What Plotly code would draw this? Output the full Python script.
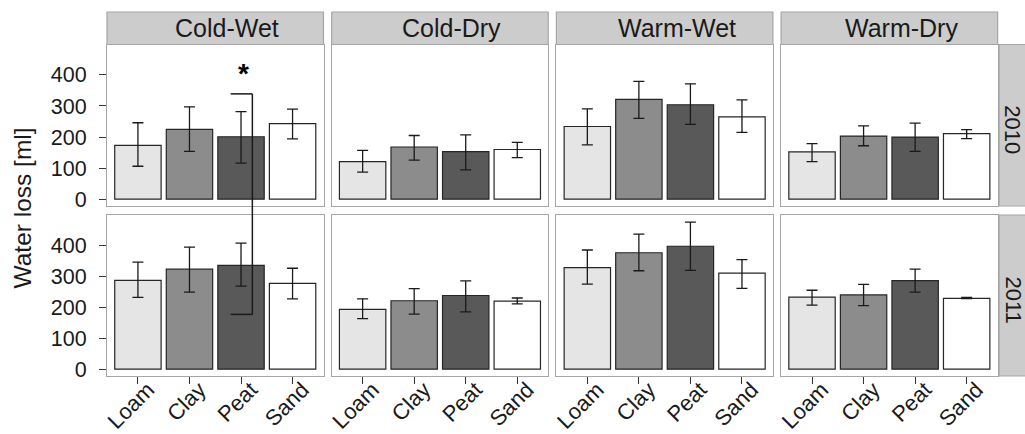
import plotly.graph_objects as go

# ---------------- data ----------------
soils = ["Loam", "Clay", "Peat", "Sand"]
climates = ["Cold-Wet", "Cold-Dry", "Warm-Wet", "Warm-Dry"]
years = ["2010", "2011"]
soil_colors = ["#E5E5E5", "#8C8C8C", "#595959", "#FFFFFF"]
y_ticks = [0, 100, 200, 300, 400]

mean_2010 = {
    "Cold-Wet": [173, 225, 201, 243],
    "Cold-Dry": [121, 168, 153, 160],
    "Warm-Wet": [234, 321, 304, 265],
    "Warm-Dry": [152, 203, 200, 211],
}
upper_2010 = {
    "Cold-Wet": [246, 297, 282, 290],
    "Cold-Dry": [157, 205, 207, 183],
    "Warm-Wet": [291, 379, 371, 320],
    "Warm-Dry": [179, 236, 245, 224],
}
lower_2010 = {
    "Cold-Wet": [106, 154, 116, 194],
    "Cold-Dry": [87, 126, 94, 134],
    "Warm-Wet": [175, 260, 241, 215],
    "Warm-Dry": [121, 172, 154, 195],
}
mean_2011 = {
    "Cold-Wet": [287, 323, 335, 277],
    "Cold-Dry": [193, 221, 238, 220],
    "Warm-Wet": [328, 376, 397, 310],
    "Warm-Dry": [233, 240, 286, 229],
}
upper_2011 = {
    "Cold-Wet": [346, 394, 407, 326],
    "Cold-Dry": [227, 260, 285, 230],
    "Warm-Wet": [385, 436, 475, 354],
    "Warm-Dry": [255, 274, 323, 232],
}
lower_2011 = {
    "Cold-Wet": [232, 249, 268, 227],
    "Cold-Dry": [163, 178, 185, 211],
    "Warm-Wet": [275, 318, 319, 261],
    "Warm-Dry": [207, 205, 249, 228],
}
means = {"2010": mean_2010, "2011": mean_2011}
uppers = {"2010": upper_2010, "2011": upper_2011}
lowers = {"2010": lower_2010, "2011": lower_2011}

# significance bracket (Cold-Wet, Peat): from 2010 down to 2011
sig_climate = "Cold-Wet"
sig_soil = "Peat"
sig_top_2010 = 339
sig_bottom_2011 = 177
sig_star_y = 406

# ---------------- geometry ----------------
W, H = 1025, 434
col_left = [107, 331.7, 556.4, 781.1]
panel_w = 216.5
row_top = [44.5, 215]
row_bot = [206, 376]
strip_top = 12
strip_w = 32
y_range = [-22, 498]
x_range = [-0.6, 3.6]

FONT = "Liberation Sans, Arial, sans-serif"
TXT = "#1a1a1a"
BORDER = "#A6A6A6"

def px_x(v):
    return v / W

def px_y(v):
    return 1 - v / H

def val_to_paper(val, r):
    y0, y1 = px_y(row_bot[r]), px_y(row_top[r])
    return y0 + (val - y_range[0]) / (y_range[1] - y_range[0]) * (y1 - y0)

fig = go.Figure()
layout = {}
shapes = []
annotations = []

for r, yr in enumerate(years):
    for c, clim in enumerate(climates):
        k = r * 4 + c + 1
        xn = "x" if k == 1 else f"x{k}"
        yn = "y" if k == 1 else f"y{k}"
        m = means[yr][clim]
        up = [u - v for u, v in zip(uppers[yr][clim], m)]
        lo = [v - l for l, v in zip(lowers[yr][clim], m)]
        fig.add_trace(go.Bar(
            x=soils, y=m, xaxis=xn, yaxis=yn, width=0.9,
            marker=dict(color=soil_colors, line=dict(color="#262626", width=1.2)),
            error_y=dict(type="data", symmetric=False, array=up, arrayminus=lo,
                         color="#1a1a1a", thickness=1.3, width=5.5),
            showlegend=False, hoverinfo="x+y",
        ))
        xd = [px_x(col_left[c]), px_x(col_left[c] + panel_w)]
        yd = [px_y(row_bot[r]), px_y(row_top[r])]
        layout["xaxis" if k == 1 else f"xaxis{k}"] = dict(
            domain=xd, anchor=yn, type="category", categoryorder="array",
            categoryarray=soils, range=x_range, showgrid=False, zeroline=False,
            showline=True, mirror=True, linecolor=BORDER, linewidth=1.2,
            ticks="outside" if r == 1 else "", ticklen=7, tickwidth=1.3, tickcolor="#333333",
            showticklabels=(r == 1), tickangle=-45, automargin=False,
            ticklabelshift=10, ticklabelstandoff=-16,
            tickfont=dict(family=FONT, size=22, color=TXT), fixedrange=True,
        )
        layout["yaxis" if k == 1 else f"yaxis{k}"] = dict(
            domain=yd, anchor=xn, range=y_range, showgrid=False, zeroline=False,
            showline=True, mirror=True, linecolor=BORDER, linewidth=1.2,
            tickvals=y_ticks, ticks="outside" if c == 0 else "", ticklen=7,
            tickwidth=1.3, tickcolor="#333333", showticklabels=(c == 0), automargin=False,
            ticklabelstandoff=8,
            tickfont=dict(family=FONT, size=21.5, color=TXT), fixedrange=True,
        )

# top strips
for c, clim in enumerate(climates):
    x0, x1 = px_x(col_left[c]), px_x(col_left[c] + panel_w)
    shapes.append(dict(type="rect", xref="paper", yref="paper", x0=x0, x1=x1,
                       y0=px_y(row_top[0]), y1=px_y(strip_top),
                       fillcolor="#CCCCCC", line=dict(color=BORDER, width=1.2), layer="below"))
    annotations.append(dict(text=clim, xref="paper", yref="paper", x=(x0 + x1) / 2,
                            y=px_y((strip_top + row_top[0]) / 2), xshift=12,
                            xanchor="center", yanchor="middle",
                            showarrow=False, font=dict(family=FONT, size=25, color=TXT)))

# right strips
sx0 = col_left[3] + panel_w + 1.5
for r, yr in enumerate(years):
    shapes.append(dict(type="rect", xref="paper", yref="paper", x0=px_x(sx0),
                       x1=px_x(sx0 + strip_w), y0=px_y(row_bot[r]), y1=px_y(row_top[r]),
                       fillcolor="#CCCCCC", line=dict(color=BORDER, width=1.2), layer="below"))
    annotations.append(dict(text=yr, xref="paper", yref="paper", x=px_x(1013),
                            y=px_y((row_top[r] + row_bot[r]) / 2), yshift=-4, textangle=90,
                            xanchor="center", yanchor="middle",
                            showarrow=False, font=dict(family=FONT, size=22, color=TXT)))

# y axis title
annotations.append(dict(text="Water loss [ml]", xref="paper", yref="paper", x=px_x(22),
                        y=px_y(208.5), textangle=-90, showarrow=False,
                        xanchor="center", yanchor="middle",
                        font=dict(family=FONT, size=24.5, color=TXT)))

# significance bracket
ci = climates.index(sig_climate)
si = soils.index(sig_soil)
bx = "x" if ci == 0 else f"x{ci + 1}"
xl, xr = si - 0.2, si + 0.22
yt = val_to_paper(sig_top_2010, 0)
yb = val_to_paper(sig_bottom_2011, 1)
line_style = dict(color="#1a1a1a", width=1.5)
shapes.append(dict(type="line", xref=bx, yref="paper", x0=xl, x1=xr, y0=yt, y1=yt, line=line_style))
shapes.append(dict(type="line", xref=bx, yref="paper", x0=xr, x1=xr, y0=yt, y1=yb, line=line_style))
shapes.append(dict(type="line", xref=bx, yref="paper", x0=xl, x1=xr, y0=yb, y1=yb, line=line_style))
annotations.append(dict(text="<b>*</b>", xref=bx, yref="y" if ci == 0 else f"y{ci + 1}",
                        x=si + 0.04, y=sig_star_y, showarrow=False,
                        xanchor="center", yanchor="middle",
                        font=dict(family=FONT, size=28, color="#000000")))

fig.update_layout(
    width=W, height=H, margin=dict(l=0, r=0, t=0, b=0, autoexpand=False),
    paper_bgcolor="white", plot_bgcolor="white",
    barmode="group", bargap=0.1,
    shapes=shapes, annotations=annotations, **layout,
)
fig.write_html(
    "out.html",
    config={"displayModeBar": False},
    post_script="document.body.style.margin='0';document.body.style.overflow='hidden';",
)
